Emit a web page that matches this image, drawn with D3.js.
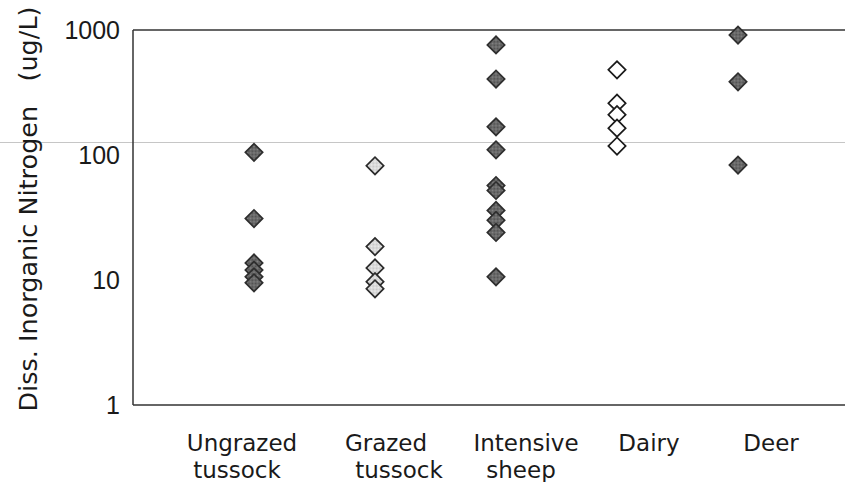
<!DOCTYPE html>
<html>
<head>
<meta charset="utf-8">
<script src="https://cdn.jsdelivr.net/npm/d3@7/dist/d3.min.js"></script>
<style>
  html, body { margin: 0; padding: 0; background: #fff; }
  svg { display: block; }
</style>
</head>
<body>
<svg id="chart" width="845" height="482"></svg>
<script>
// Land-use categories, shown on two lines under the axis
const categories = ["Ungrazed tussock", "Grazed tussock", "Intensive sheep", "Dairy", "Deer"];
const categoryLines = [["Ungrazed", "tussock"], ["Grazed", "tussock"], ["Intensive", "sheep"], ["Dairy"], ["Deer"]];

// Dissolved inorganic nitrogen per site (ug/L)
const ungrazedTussock = [105, 31, 13.7, 12, 10.6, 9.5];
const grazedTussock = [82, 18.5, 12.5, 9.7, 8.5];
const intensiveSheep = [760, 405, 168, 110, 57, 52, 36, 30, 24, 10.6];
const dairy = [480, 260, 210, 164, 118];
const deer = [910, 385, 83];

// Marker style per category
const markerStyles = ["dark", "light", "dark", "open", "dark"];

// Y axis ticks and horizontal reference line
const yTicks = [1, 10, 100, 1000];
const referenceLevel = 128;

const seriesValues = [ungrazedTussock, grazedTussock, intensiveSheep, dairy, deer];

const svg = d3.select("#chart");
const W = 845, H = 482;
const plotLeft = 133, plotTop = 30, plotBottom = 405;

const y = d3.scaleLog().domain([1, 1000]).range([plotBottom, plotTop]);
const x = d3.scaleLinear().domain([-1, 5]).range([plotLeft, 859]);

// Stippled fills for the shaded markers
const defs = svg.append("defs");
function stipple(id, base, dot) {
  const p = defs.append("pattern").attr("id", id)
    .attr("width", 2).attr("height", 2).attr("patternUnits", "userSpaceOnUse");
  p.append("rect").attr("width", 2).attr("height", 2).attr("fill", base);
  p.append("rect").attr("width", 1).attr("height", 1).attr("fill", dot);
  p.append("rect").attr("x", 1).attr("y", 1).attr("width", 1).attr("height", 1).attr("fill", dot);
}
stipple("fillDark", "#858585", "#4c4c4c");
stipple("fillLight", "#f0f0f0", "#c4c4c4");

const fills = { dark: "url(#fillDark)", light: "url(#fillLight)", open: "#fff" };
const strokes = { dark: "#2e2e2e", light: "#2a2a2a", open: "#1a1a1a" };

// Reference line across the full width
svg.append("line")
  .attr("x1", 0).attr("x2", W)
  .attr("y1", Math.round(y(referenceLevel)) + 0.5)
  .attr("y2", Math.round(y(referenceLevel)) + 0.5)
  .attr("stroke", "#c6c6c6").attr("stroke-width", 1);

// Frame: left axis, top border and bottom axis
const frame = svg.append("g").attr("stroke", "#333").attr("stroke-width", 1.5).attr("fill", "none");
frame.append("line").attr("x1", plotLeft).attr("x2", plotLeft).attr("y1", y(1000)).attr("y2", y(1));
frame.append("line").attr("x1", plotLeft).attr("x2", W).attr("y1", y(1000)).attr("y2", y(1000));
frame.append("line").attr("x1", plotLeft).attr("x2", W).attr("y1", y(1)).attr("y2", y(1));

// Y tick labels
const yAxis = d3.axisLeft(y).tickValues(yTicks).tickFormat(d3.format("d")).tickSize(0).tickPadding(13);
const yg = svg.append("g").attr("transform", `translate(${plotLeft},0)`).call(yAxis);
yg.select(".domain").remove();
yg.selectAll("text")
  .attr("font-family", "'Liberation Sans', Arial, sans-serif")
  .attr("font-size", 25)
  .attr("fill", "#1a1a1a");

// Y axis title
svg.append("text")
  .attr("transform", "translate(37,209) rotate(-90)")
  .attr("text-anchor", "middle")
  .attr("font-family", "'DejaVu Sans', Verdana, sans-serif")
  .attr("font-size", 25.5)
  .attr("fill", "#1a1a1a")
  .attr("xml:space", "preserve")
  .text("Diss. Inorganic Nitrogen   (ug/L)");

// Category labels (offsets in px per line)
const labelOffsets = [[-12, -17], [11, 24], [30, 25], [32], [33]];
const lab = svg.append("g")
  .attr("font-family", "'DejaVu Sans', Verdana, sans-serif")
  .attr("font-size", 23)
  .attr("fill", "#1a1a1a")
  .attr("text-anchor", "middle");
categoryLines.forEach((lines, i) => {
  lines.forEach((t, j) => {
    lab.append("text")
      .attr("x", x(i) + labelOffsets[i][j])
      .attr("y", 451 + j * 27)
      .text(t);
  });
});

// Diamond markers
const diamond = d3.symbol().type(d3.symbolSquare).size(150);
const points = [];
seriesValues.forEach((vals, i) => vals.forEach(v => points.push({ i, v, style: markerStyles[i] })));
svg.append("g").selectAll("path")
  .data(points)
  .join("path")
  .attr("d", diamond)
  .attr("transform", d => `translate(${x(d.i)},${y(d.v)}) rotate(45)`)
  .attr("fill", d => fills[d.style])
  .attr("stroke", d => strokes[d.style])
  .attr("stroke-width", 1.7);
</script>
</body>
</html>
